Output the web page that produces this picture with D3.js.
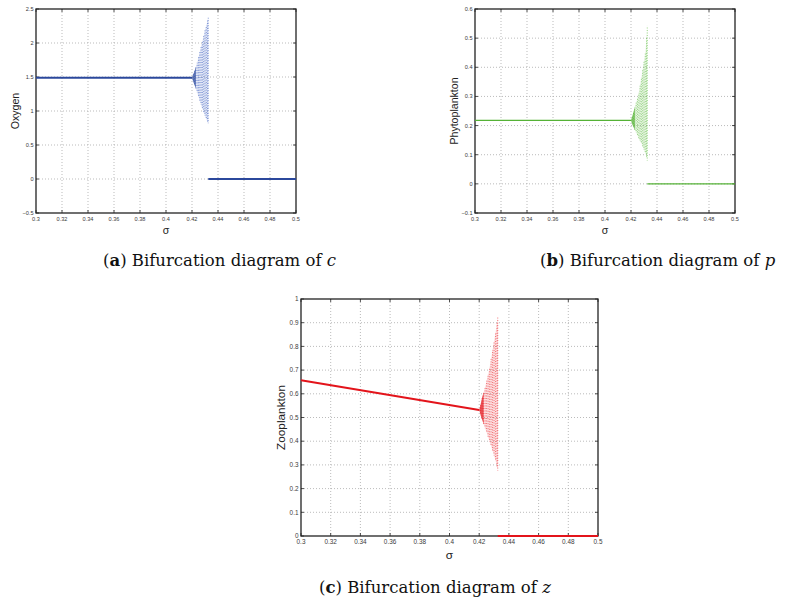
<!DOCTYPE html>
<html>
<head>
<meta charset="utf-8">
<script src="https://cdn.jsdelivr.net/npm/d3@7.9.0/dist/d3.min.js"></script>
<style>
  html, body { margin: 0; padding: 0; background: #fff; }
  svg { display: block; }
  .tick-label { font-family: "Liberation Sans", Arial, sans-serif; fill: #3a3a3a; }
  .axis-label { font-family: "Liberation Sans", Arial, sans-serif; fill: #222; }
  .caption { font-family: "DejaVu Serif", serif; fill: #111; }
</style>
</head>
<body>
<svg id="fig" width="791" height="604"></svg>
<script>
// sigma axis (shared by the three panels)
const sigmaTicks = [0.3, 0.32, 0.34, 0.36, 0.38, 0.4, 0.42, 0.44, 0.46, 0.48, 0.5];
const sigmaTickLabels = ['0.3', '0.32', '0.34', '0.36', '0.38', '0.4', '0.42', '0.44', '0.46', '0.48', '0.5'];

// stable interior equilibrium and the extinct (zero) branch
const stableSigma = [0.30, 0.42];
const extinctSigma = [0.4325, 0.50];

// sigma values of the oscillation columns after the Hopf point
const wedgeSigma = [0.420, 0.421, 0.422, 0.423, 0.424, 0.425, 0.426, 0.427, 0.428, 0.429, 0.430, 0.431, 0.432, 0.4325];

// (a) oxygen
const oxygenTicks = [-0.5, 0, 0.5, 1, 1.5, 2, 2.5];
const oxygenTickLabels = ['\u22120.5', '0', '0.5', '1', '1.5', '2', '2.5'];
const oxygenStable = [1.49, 1.49];
const oxygenExtinct = [0, 0];
const oxygenHi = [1.49, 1.54, 1.59, 1.65, 1.71, 1.79, 1.87, 1.95, 2.03, 2.11, 2.19, 2.26, 2.33, 2.38];
const oxygenLo = [1.49, 1.43, 1.38, 1.33, 1.27, 1.21, 1.15, 1.09, 1.03, 0.98, 0.93, 0.88, 0.84, 0.82];

// (b) phytoplankton
const phytoTicks = [-0.1, 0, 0.1, 0.2, 0.3, 0.4, 0.5, 0.6];
const phytoTickLabels = ['\u22120.1', '0', '0.1', '0.2', '0.3', '0.4', '0.5', '0.6'];
const phytoStable = [0.218, 0.218];
const phytoExtinct = [0, 0];
const phytoHi = [0.218, 0.232, 0.248, 0.264, 0.28, 0.295, 0.312, 0.338, 0.366, 0.393, 0.42, 0.452, 0.5, 0.542];
const phytoLo = [0.218, 0.204, 0.194, 0.185, 0.175, 0.165, 0.156, 0.147, 0.139, 0.128, 0.117, 0.105, 0.092, 0.08];

// (c) zooplankton
const zooTicks = [0, 0.1, 0.2, 0.3, 0.4, 0.5, 0.6, 0.7, 0.8, 0.9, 1];
const zooTickLabels = ['0', '0.1', '0.2', '0.3', '0.4', '0.5', '0.6', '0.7', '0.8', '0.9', '1'];
const zooStable = [0.657, 0.532];
const zooExtinct = [0, 0];
const zooHi = [0.532, 0.556, 0.585, 0.607, 0.630, 0.655, 0.683, 0.712, 0.748, 0.785, 0.823, 0.860, 0.898, 0.925];
const zooLo = [0.532, 0.510, 0.490, 0.472, 0.455, 0.437, 0.418, 0.398, 0.380, 0.360, 0.340, 0.318, 0.292, 0.276];

const svg = d3.select('#fig');

const panels = [
  {
    box: [36, 9, 296, 213], yDomain: [-0.5, 2.5],
    yTicks: oxygenTicks, yTickLabels: oxygenTickLabels,
    stable: oxygenStable, extinct: oxygenExtinct, hi: oxygenHi, lo: oxygenLo,
    line: '#2b489c', dots: '#3f5fc0', lineWidth: 2,
    yLabel: 'Oxygen', yLabelX: 15, sigmaY: 233.5,
    tickFont: 5.6, labelFont: 10.6,
    caption: ['a', 'c'], captionX: 103, captionY: 266
  },
  {
    box: [475, 9, 735, 213], yDomain: [-0.1, 0.6],
    yTicks: phytoTicks, yTickLabels: phytoTickLabels,
    stable: phytoStable, extinct: phytoExtinct, hi: phytoHi, lo: phytoLo,
    line: '#55b236', dots: '#5cbc3e', lineWidth: 1.3,
    yLabel: 'Phytoplankton', yLabelX: 454, sigmaY: 233.5,
    tickFont: 5.6, labelFont: 10.6,
    caption: ['b', 'p'], captionX: 540, captionY: 266
  },
  {
    box: [301, 299, 598, 536], yDomain: [0, 1],
    yTicks: zooTicks, yTickLabels: zooTickLabels,
    stable: zooStable, extinct: zooExtinct, hi: zooHi, lo: zooLo,
    line: '#e3141b', dots: '#ec2a30', lineWidth: 2,
    yLabel: 'Zooplankton', yLabelX: 281, sigmaY: 559,
    tickFont: 6.4, labelFont: 11.8,
    caption: ['c', 'z'], captionX: 319, captionY: 593
  }
];

panels.forEach(drawPanel);

function drawPanel(p) {
  const [left, top, right, bottom] = p.box;
  const x = d3.scaleLinear().domain([0.3, 0.5]).range([left, right]);
  const y = d3.scaleLinear().domain(p.yDomain).range([bottom, top]);
  const g = svg.append('g');

  // dotted grid
  g.selectAll('.gx').data(sigmaTicks.slice(1, -1)).join('line')
    .attr('x1', d => x(d)).attr('x2', d => x(d))
    .attr('y1', top).attr('y2', bottom)
    .attr('stroke', '#aaa').attr('stroke-width', 0.8)
    .attr('stroke-dasharray', '1,2');
  g.selectAll('.gy').data(p.yTicks.slice(1, -1)).join('line')
    .attr('x1', left).attr('x2', right)
    .attr('y1', d => y(d)).attr('y2', d => y(d))
    .attr('stroke', '#aaa').attr('stroke-width', 0.8)
    .attr('stroke-dasharray', '1,2');

  // oscillation region: light envelope plus dotted columns
  const rows = wedgeSigma.map((s, i) => ({ s, hi: p.hi[i], lo: p.lo[i] }));
  g.append('path')
    .datum(rows)
    .attr('d', d3.area().x(d => x(d.s)).y0(d => y(d.lo)).y1(d => y(d.hi)))
    .attr('fill', p.dots).attr('fill-opacity', 0.15);
  g.selectAll('.col').data(rows).join('line')
    .attr('x1', d => x(d.s)).attr('x2', d => x(d.s))
    .attr('y1', d => y(d.lo)).attr('y2', d => y(d.hi))
    .attr('stroke', p.dots).attr('stroke-width', 0.9)
    .attr('stroke-opacity', 0.75)
    .attr('stroke-dasharray', '0.9,1.6')
    .attr('stroke-dashoffset', (d, i) => i * 0.8);
  // dense part right after the Hopf point
  g.append('path')
    .datum(rows.slice(0, 4))
    .attr('d', d3.area().x(d => x(d.s)).y0(d => y(d.lo)).y1(d => y(d.hi)))
    .attr('fill', p.line).attr('fill-opacity', 0.7);

  // inward ticks on all four sides
  const tl = 3;
  sigmaTicks.forEach(t => {
    g.append('line').attr('x1', x(t)).attr('x2', x(t)).attr('y1', bottom).attr('y2', bottom - tl).attr('stroke', '#222').attr('stroke-width', 0.8);
    g.append('line').attr('x1', x(t)).attr('x2', x(t)).attr('y1', top).attr('y2', top + tl).attr('stroke', '#222').attr('stroke-width', 0.8);
  });
  p.yTicks.forEach(t => {
    g.append('line').attr('x1', left).attr('x2', left + tl).attr('y1', y(t)).attr('y2', y(t)).attr('stroke', '#222').attr('stroke-width', 0.8);
    g.append('line').attr('x1', right).attr('x2', right - tl).attr('y1', y(t)).attr('y2', y(t)).attr('stroke', '#222').attr('stroke-width', 0.8);
  });

  // box
  g.append('rect')
    .attr('x', left).attr('y', top)
    .attr('width', right - left).attr('height', bottom - top)
    .attr('fill', 'none').attr('stroke', '#222').attr('stroke-width', 1.3);

  // equilibrium branches (on top of the box, the zero branch of (c) sits on the axis)
  const branch = d3.line().x(d => x(d[0])).y(d => y(d[1]));
  g.append('path')
    .attr('d', branch(d3.zip(stableSigma, p.stable)))
    .attr('stroke', p.line).attr('stroke-width', p.lineWidth).attr('fill', 'none');
  g.append('path')
    .attr('d', branch(d3.zip(extinctSigma, p.extinct)))
    .attr('stroke', p.line).attr('stroke-width', p.lineWidth).attr('fill', 'none');

  // tick labels
  g.selectAll('.xl').data(sigmaTicks).join('text')
    .attr('class', 'tick-label')
    .attr('x', d => x(d)).attr('y', bottom + p.tickFont + 2)
    .attr('text-anchor', 'middle').attr('font-size', p.tickFont)
    .text((d, i) => sigmaTickLabels[i]);
  g.selectAll('.yl').data(p.yTicks).join('text')
    .attr('class', 'tick-label')
    .attr('x', left - 2.5).attr('y', d => y(d) + p.tickFont * 0.35)
    .attr('text-anchor', 'end').attr('font-size', p.tickFont)
    .text((d, i) => p.yTickLabels[i]);

  // axis labels
  g.append('text').attr('class', 'axis-label')
    .attr('transform', `translate(${p.yLabelX},${(top + bottom) / 2}) rotate(-90)`)
    .attr('text-anchor', 'middle').attr('dy', '0.35em')
    .attr('font-size', p.labelFont)
    .text(p.yLabel);
  g.append('text').attr('class', 'axis-label')
    .attr('x', (left + right) / 2).attr('y', p.sigmaY)
    .attr('text-anchor', 'middle')
    .attr('font-size', p.labelFont)
    .text('\u03c3');

  // caption
  const cap = svg.append('text').attr('class', 'caption')
    .attr('x', p.captionX).attr('y', p.captionY)
    .attr('font-size', 16.5);
  cap.append('tspan').text('(');
  cap.append('tspan').attr('font-weight', 'bold').text(p.caption[0]);
  cap.append('tspan').text(') Bifurcation diagram of ');
  cap.append('tspan').attr('font-style', 'italic').text(p.caption[1]);
}
</script>
</body>
</html>
